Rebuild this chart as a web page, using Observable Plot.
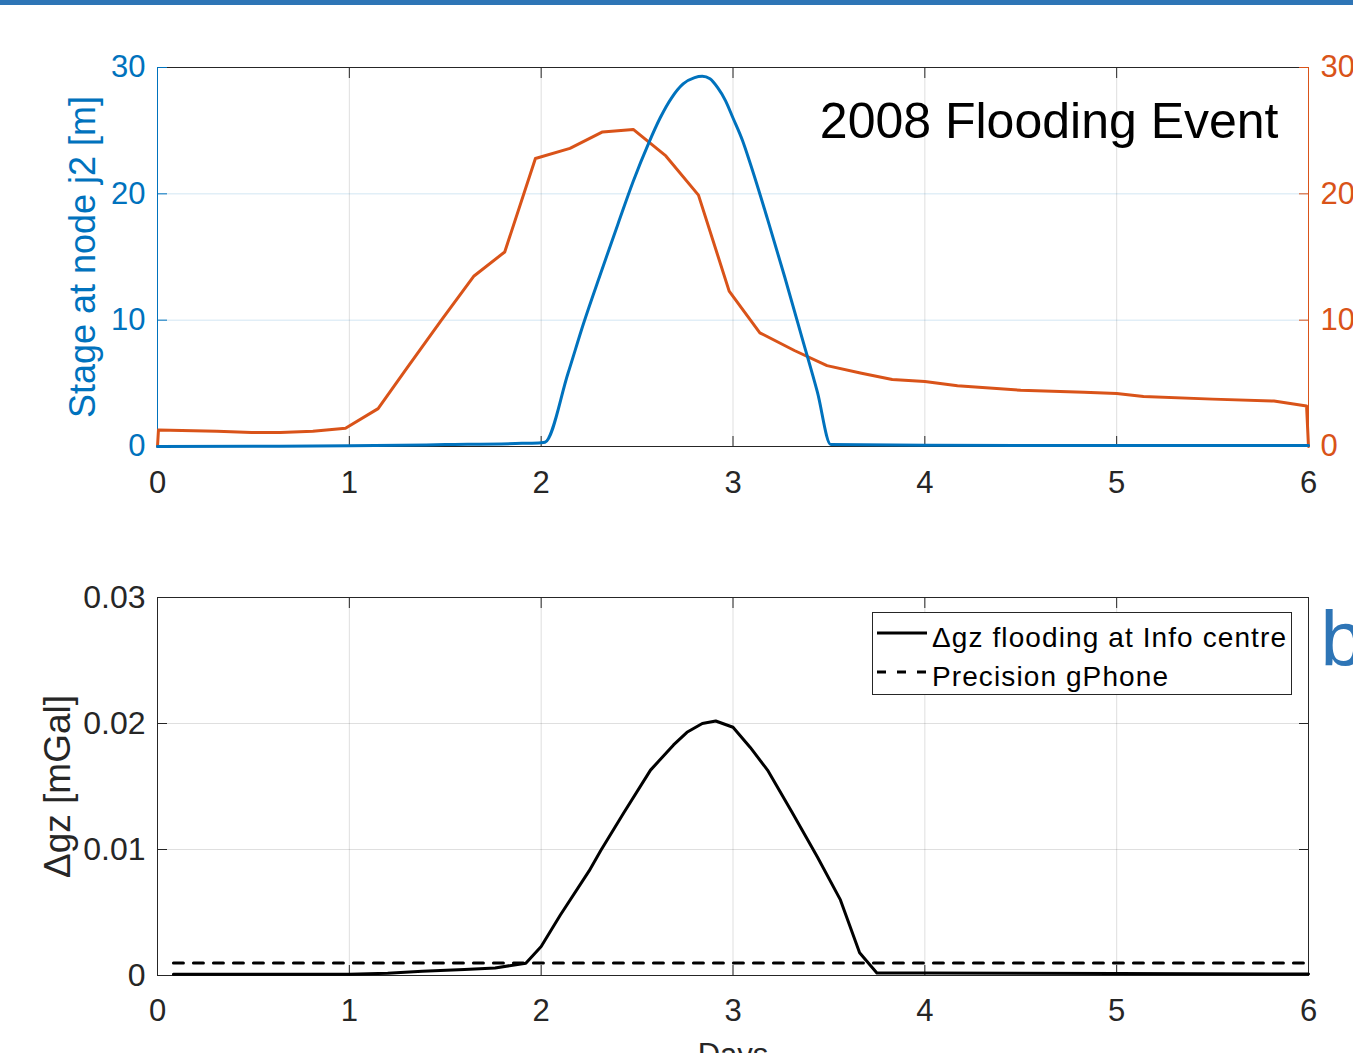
<!DOCTYPE html>
<html>
<head>
<meta charset="utf-8">
<script src="https://cdn.jsdelivr.net/npm/d3@7"></script>
<script src="https://cdn.jsdelivr.net/npm/@observablehq/plot@0.6"></script>
<style>
  body { margin: 0; background: #fff; }
  #wrap { position: relative; width: 1353px; height: 1053px; overflow: hidden; background: #fff; }
  #bar { position: absolute; left: 0; top: 0; width: 1353px; height: 5px; background: #2E75B6; }
  #top { position: absolute; left: 0; top: 0; }
  #bottom { position: absolute; left: 0; top: 530px; }
  #legend { position: absolute; left: 872px; top: 612px; }
  svg { overflow: hidden; }
</style>
</head>
<body>
<div id="wrap">
  <div id="top"></div>
  <div id="bottom"></div>
  <svg id="legend" width="421" height="84"></svg>
  <div id="bar"></div>
</div>
<script>
const FONT = '"Liberation Sans", Arial, Helvetica, sans-serif';
const BLUE = "#0072BD", ORANGE = "#D95319", INK = "#262626";

// ---- axes / ticks ----
const dayDomain = [0, 6];
const xTicks = [0, 1, 2, 3, 4, 5, 6];
const xTickLabels = ["0", "1", "2", "3", "4", "5", "6"];
const xGrid = [1, 2, 3, 4, 5];
const stageDomain = [0, 30];
const stageTicks = [0, 10, 20, 30];
const stageGrid = [10, 20];
const dgDomain = [0, 0.03];
const dgTicks = [0, 0.01, 0.02, 0.03];
const dgTickLabels = ["0", "0.01", "0.02", "0.03"];
const dgGrid = [0.01, 0.02];

// ---- top panel: stage at node j2 (blue, left axis) ----
const stageDays = [0, 0.5, 1.0, 1.5, 1.9, 2.0, 2.02, 2.14, 2.22, 2.31, 2.40, 2.48, 2.56, 2.62, 2.68, 2.74, 2.80, 2.84, 2.88, 2.92, 2.96, 3.00, 3.05, 3.09, 3.18, 3.27, 3.36, 3.44, 3.51, 4.0, 5.0, 6.0];
const stageValues = [0.0, 0.02, 0.05, 0.15, 0.25, 0.3, 0.34, 5.8, 9.7, 13.7, 17.6, 21.0, 24.0, 26.0, 27.6, 28.7, 29.2, 29.3, 29.1, 28.4, 27.4, 26.0, 24.2, 22.4, 18.0, 13.4, 8.6, 4.3, 0.15, 0.1, 0.08, 0.08];

// ---- top panel: orange series (right axis) ----
const orangeDays = [0, 0.005, 0.31, 0.49, 0.64, 0.81, 0.98, 1.15, 1.30, 1.48, 1.65, 1.81, 1.97, 2.15, 2.32, 2.48, 2.65, 2.82, 2.98, 3.14, 3.32, 3.49, 3.67, 3.83, 4.0, 4.17, 4.5, 4.83, 5.0, 5.14, 5.5, 5.82, 5.99, 6.0];
const orangeValues = [0, 1.3, 1.2, 1.1, 1.1, 1.2, 1.45, 3.0, 6.2, 10.0, 13.5, 15.4, 22.8, 23.6, 24.9, 25.1, 23.0, 19.9, 12.3, 9.0, 7.6, 6.4, 5.8, 5.3, 5.15, 4.8, 4.45, 4.3, 4.2, 3.95, 3.75, 3.6, 3.2, 0];

// ---- bottom panel: gravity change ----
const dgDays = [0.083, 0.5, 1.0, 1.2, 1.38, 1.6, 1.76, 1.92, 2.0, 2.10, 2.25, 2.31, 2.43, 2.57, 2.69, 2.76, 2.84, 2.91, 3.0, 3.09, 3.18, 3.31, 3.44, 3.56, 3.66, 3.75, 4.0, 5.0, 6.0];
const dgValues = [0.0001, 0.0001, 0.0001, 0.00018, 0.00034, 0.00048, 0.0006, 0.00098, 0.0023, 0.0048, 0.0083, 0.0099, 0.0129, 0.0163, 0.0183, 0.0193, 0.0200, 0.0202, 0.0197, 0.0181, 0.0163, 0.0129, 0.0094, 0.0060, 0.0018, 0.0002, 0.0002, 0.00015, 0.00012];
const gphoneDays = [0.083, 6.0];
const gphoneValues = [0.001, 0.001];

const legendLabels = ["\u0394gz flooding at Info centre", "Precision gPhone"];
const titleText = "2008 Flooding Event";
const stageLabel = "Stage at node j2 [m]";
const dgLabel = "\u0394gz [mGal]";
const xLabel = "Days";
const panelLetter = "b";

const rows = (xs, ys) => xs.map((d, i) => ({day: d, v: ys[i]}));
const xFmt = d => xTickLabels[xTicks.indexOf(d)];

const topPlot = Plot.plot({
  width: 1353, height: 530,
  marginLeft: 157, marginRight: 45, marginTop: 67, marginBottom: 84,
  style: {fontFamily: FONT, fontSize: "30px", background: "transparent"},
  x: {domain: dayDomain},
  y: {domain: stageDomain},
  marks: [
    Plot.gridX(xGrid, {stroke: INK, strokeOpacity: 0.15}),
    Plot.gridY(stageGrid, {stroke: BLUE, strokeOpacity: 0.18}),
    Plot.ruleY([stageDomain[1]], {stroke: INK}),
    Plot.ruleY([stageDomain[0]], {stroke: INK}),
    Plot.axisX(xTicks, {anchor: "bottom", tickSize: -10, fill: null, stroke: INK, label: null}),
    Plot.axisX(xTicks, {anchor: "top", tickSize: -10, fill: null, stroke: INK, label: null}),
    Plot.axisY(stageTicks, {anchor: "left", tickSize: -10, fill: null, stroke: BLUE, label: null}),
    Plot.axisY(stageTicks, {anchor: "right", tickSize: -10, fill: null, stroke: ORANGE, label: null}),
    Plot.axisX(xTicks, {anchor: "bottom", tickSize: 0, tickPadding: 24, fill: INK, fontSize: 31, label: null, tickFormat: xFmt}),
    Plot.axisY(stageTicks, {anchor: "left", tickSize: 0, tickPadding: 12, fill: BLUE, fontSize: 31, label: null}),
    Plot.axisY(stageTicks, {anchor: "right", tickSize: 0, tickPadding: 12, fill: ORANGE, fontSize: 31, label: null}),
    Plot.ruleX([dayDomain[0]], {stroke: BLUE}),
    Plot.ruleX([dayDomain[1]], {stroke: ORANGE}),
    Plot.line(rows(orangeDays, orangeValues), {x: "day", y: "v", stroke: ORANGE, strokeWidth: 3}),
    Plot.line(rows(stageDays, stageValues), {x: "day", y: "v", stroke: BLUE, strokeWidth: 3, curve: "monotone-x"}),
    Plot.text([stageLabel], {text: d => d, frameAnchor: "left", rotate: -90, dx: -74, textAnchor: "middle", lineAnchor: "middle", fontSize: 36, fill: BLUE}),
    Plot.text([titleText], {text: d => d, frameAnchor: "top-right", dx: -30, dy: 35, textAnchor: "end", lineAnchor: "top", fontSize: 50, fill: "#000"})
  ]
});
document.getElementById("top").appendChild(topPlot);

const bottomPlot = Plot.plot({
  width: 1353, height: 523,
  marginLeft: 157, marginRight: 45, marginTop: 67, marginBottom: 78,
  style: {fontFamily: FONT, fontSize: "30px", background: "transparent"},
  x: {domain: dayDomain},
  y: {domain: dgDomain},
  marks: [
    Plot.gridX(xGrid, {stroke: INK, strokeOpacity: 0.15}),
    Plot.gridY(dgGrid, {stroke: INK, strokeOpacity: 0.15}),
    Plot.frame({stroke: INK}),
    Plot.axisX(xTicks, {anchor: "bottom", tickSize: -10, fill: null, stroke: INK, label: null}),
    Plot.axisX(xTicks, {anchor: "top", tickSize: -10, fill: null, stroke: INK, label: null}),
    Plot.axisY(dgTicks, {anchor: "left", tickSize: -10, fill: null, stroke: INK, label: null}),
    Plot.axisY(dgTicks, {anchor: "right", tickSize: -10, fill: null, stroke: INK, label: null}),
    Plot.axisX(xTicks, {anchor: "bottom", tickSize: 0, tickPadding: 23, fill: INK, fontSize: 31, label: null, tickFormat: xFmt}),
    Plot.axisY(dgTicks, {anchor: "left", tickSize: 0, tickPadding: 12, fill: INK, fontSize: 32, label: null,
      tickFormat: d => dgTickLabels[dgTicks.indexOf(d)]}),
    Plot.line(rows(gphoneDays, gphoneValues), {x: "day", y: "v", stroke: "#000", strokeWidth: 3, strokeDasharray: "10,10"}),
    Plot.line(rows(dgDays, dgValues), {x: "day", y: "v", stroke: "#000", strokeWidth: 3}),
    Plot.text([dgLabel], {text: d => d, frameAnchor: "left", rotate: -90, dx: -99, textAnchor: "middle", lineAnchor: "middle", fontSize: 37, fill: INK}),
    Plot.text([xLabel], {text: d => d, frameAnchor: "bottom", dy: 67, textAnchor: "middle", lineAnchor: "top", fontSize: 31, fill: INK}),
    Plot.text([panelLetter], {text: d => d, frameAnchor: "top-right", dx: 12, dy: 13, textAnchor: "start", lineAnchor: "top", fontSize: 78, fill: "#2E75B6"})
  ]
});
document.getElementById("bottom").appendChild(bottomPlot);

// ---- legend ----
const lg = d3.select("#legend");
lg.append("rect").attr("x", 0.5).attr("y", 0.5).attr("width", 419).attr("height", 82)
  .attr("fill", "#fff").attr("stroke", INK).attr("stroke-width", 1);
lg.append("line").attr("x1", 5).attr("x2", 55).attr("y1", 21).attr("y2", 21)
  .attr("stroke", "#000").attr("stroke-width", 3);
lg.append("line").attr("x1", 5).attr("x2", 55).attr("y1", 60).attr("y2", 60)
  .attr("stroke", "#000").attr("stroke-width", 3).attr("stroke-dasharray", "9,11");
lg.selectAll("text.lab").data(legendLabels).join("text")
  .attr("class", "lab")
  .attr("x", 60)
  .attr("y", (d, i) => i === 0 ? 35 : 74)
  .attr("font-family", FONT).attr("font-size", 28).attr("letter-spacing", "1.1px")
  .attr("fill", "#000")
  .text(d => d);
</script>
</body>
</html>
